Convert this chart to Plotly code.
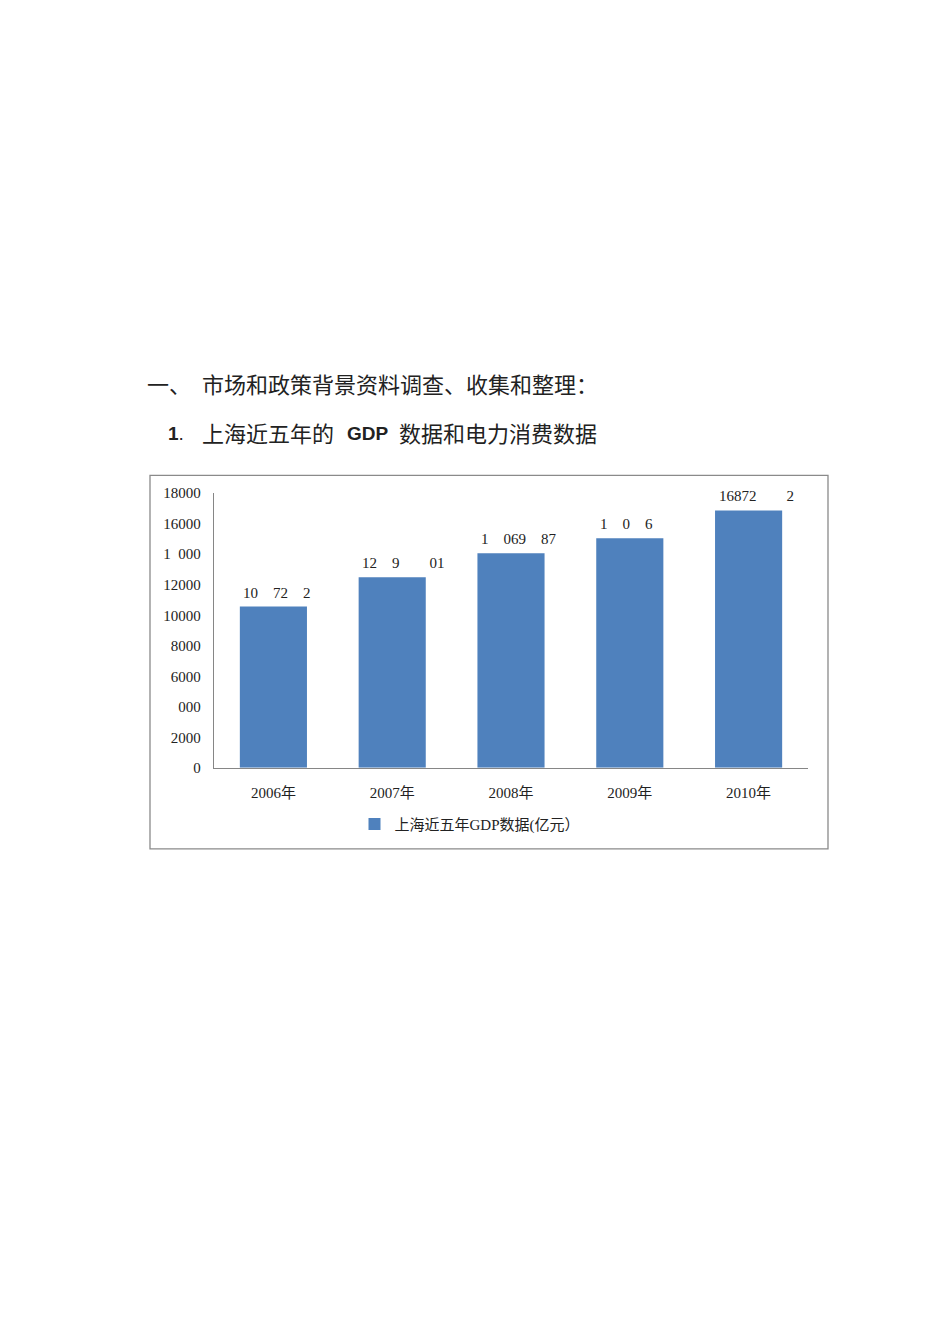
import plotly.graph_objects as go

# 上海近五年GDP（亿元）
years = ["2006年", "2007年", "2008年", "2009年", "2010年"]
gdp = [10572.24, 12494.01, 14069.87, 15046.45, 16872.42]
# 数据标签（按原图显示的样子）
fs = "\u2007"
gdp_labels = ["10" + fs * 2 + "72" + fs * 2 + "2",
              "12" + fs * 2 + "9" + fs * 4 + "01",
              "1" + fs * 2 + "069" + fs * 2 + "87",
              "1" + fs * 2 + "0" + fs * 2 + "6",
              "16872" + fs * 4 + "2"]
tick_vals = [0, 2000, 4000, 6000, 8000, 10000, 12000, 14000, 16000, 18000]
tick_text = ["0", "2000", "000", "6000", "8000", "10000", "12000",
             "1" + fs + "000", "16000", "18000"]
series_name = "上海近五年GDP数据(亿元）"

# 页面有 8px 的 body 边距，图宽高减去后正好放进窗口
OFF = 8
W, H = 950 - 2 * OFF, 1344 - 2 * OFF
serif = "Liberation Serif, 'Noto Sans CJK SC', serif"
cjk = "'Noto Sans CJK SC', sans-serif"


def px(x):
    return (x - OFF) / W


def py(y):
    return 1 - (y - OFF) / H


fig = go.Figure()
fig.add_trace(go.Bar(x=years, y=gdp, name=series_name,
                     marker=dict(color="#4F81BD", line=dict(width=0))))

# 数据标签：左对齐于柱子左侧
for yr, v, t in zip(years, gdp, gdp_labels):
    fig.add_annotation(x=yr, y=v, text=t, showarrow=False, xanchor="left",
                       yanchor="bottom", xshift=-32, yshift=4,
                       font=dict(family=serif, size=15, color="#222"))

# 标题文字
title_font = dict(family=cjk, size=22, color="#222")
bold_font = dict(family="Liberation Sans, sans-serif", size=19, color="#222")
fig.add_annotation(x=px(145), y=py(379), xref="paper", yref="paper",
                   text="一、", showarrow=False, xanchor="left", yanchor="middle",
                   font=title_font)
fig.add_annotation(x=px(200), y=py(379), xref="paper", yref="paper",
                   text="市场和政策背景资料调查、收集和整理：", showarrow=False,
                   xanchor="left", yanchor="middle", font=title_font)
fig.add_annotation(x=px(166), y=py(431), xref="paper", yref="paper",
                   text="<b>1</b>.", showarrow=False, xanchor="left", yanchor="middle",
                   font=bold_font)
fig.add_annotation(x=px(200), y=py(429), xref="paper", yref="paper",
                   text="上海近五年的", showarrow=False, xanchor="left", yanchor="middle",
                   font=title_font)
fig.add_annotation(x=px(345), y=py(431), xref="paper", yref="paper",
                   text="<b>GDP</b>", showarrow=False, xanchor="left", yanchor="middle",
                   font=bold_font)
fig.add_annotation(x=px(397), y=py(429), xref="paper", yref="paper",
                   text="数据和电力消费数据", showarrow=False, xanchor="left",
                   yanchor="middle", font=title_font)

# 图表外框
fig.add_shape(type="rect", xref="paper", yref="paper",
              x0=px(150), x1=px(828), y0=py(473), y1=py(851),
              line=dict(color="#8a8a8a", width=1.3))

fig.update_layout(
    width=W, height=H,
    margin=dict(l=0, r=0, t=0, b=0),
    paper_bgcolor="white", plot_bgcolor="white",
    bargap=0.435,
    showlegend=True,
    legend=dict(orientation="h", x=px(470), xanchor="center",
                y=py(826), yanchor="middle",
                font=dict(family=serif, size=15, color="#222"),
                itemwidth=30),
    xaxis=dict(domain=[px(214), px(808)], showline=True, linecolor="#868686",
               linewidth=1.3, ticks="", showgrid=False, ticklabelstandoff=11,
               tickfont=dict(family=serif, size=15, color="#222")),
    yaxis=dict(domain=[py(769), py(491)], range=[0, 18000],
               tickvals=tick_vals, ticktext=tick_text,
               showline=True, linecolor="#868686", linewidth=1.3,
               ticks="", showgrid=False, zeroline=False, ticklabelstandoff=9,
               tickfont=dict(family=serif, size=15, color="#222")),
)

fig.write_html("out.html")
